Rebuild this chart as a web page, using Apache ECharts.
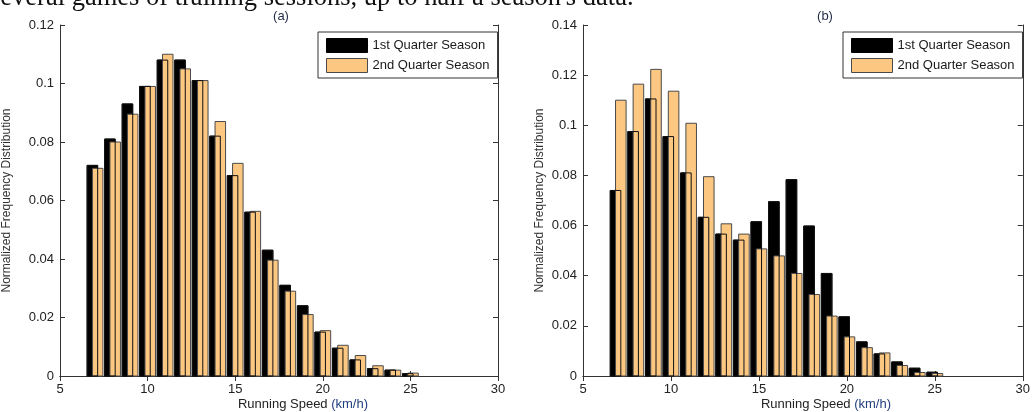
<!DOCTYPE html>
<html>
<head>
<meta charset="utf-8">
<title>Running speed distribution</title>
<script src="https://cdn.jsdelivr.net/npm/echarts@6/dist/echarts.min.js"></script>
<style>
  html, body { margin: 0; padding: 0; background: #fff; }
  #chart { width: 1033px; height: 412px; }
</style>
</head>
<body>
<div id="chart"></div>
<script>
// speed bins, km/h (bin centres)
const speedBins = [7, 8, 9, 10, 11, 12, 13, 14, 15, 16, 17, 18, 19, 20, 21, 22, 23, 24, 25]

// panel (a)
const firstQuarterA = [0.072, 0.081, 0.093, 0.099, 0.108, 0.108, 0.101, 0.082, 0.0685, 0.056, 0.043, 0.031, 0.024, 0.015, 0.0095, 0.0055, 0.0025, 0.002, 0.0008]
const secondQuarterA = [0.071, 0.080, 0.0895, 0.099, 0.110, 0.105, 0.101, 0.087, 0.0727, 0.0563, 0.0396, 0.029, 0.021, 0.0155, 0.0105, 0.007, 0.0035, 0.002, 0.001]

// panel (b)
const firstQuarterB = [0.074, 0.0975, 0.1105, 0.0955, 0.081, 0.0633, 0.0566, 0.0542, 0.0615, 0.0695, 0.0783, 0.0598, 0.0409, 0.0236, 0.0136, 0.0088, 0.0056, 0.0031, 0.0015]
const secondQuarterB = [0.110, 0.1164, 0.1223, 0.1136, 0.1008, 0.0795, 0.0607, 0.0566, 0.0507, 0.0479, 0.0409, 0.0325, 0.0239, 0.0156, 0.0113, 0.0092, 0.0042, 0.0014, 0.001]

const xTicks = [5, 10, 15, 20, 25, 30]
const yMaxA = 0.12
const yMaxB = 0.14

const Q1 = '1st Quarter Season'
const Q2 = '2nd Quarter Season'
const ORANGE = '#FCC781'
const FONT = 'Liberation Sans'

const chart = echarts.init(document.getElementById('chart'))

function pairs(values) {
  return speedBins.map((s, i) => [s, values[i]])
}

// one bar per bin, shifted left/right of the bin centre (matlab grouped look)
function barRender(shift, fill, stroke) {
  return function (params, api) {
    const x = api.value(0)
    const y = api.value(1)
    const p0 = api.coord([x + shift - 0.3, 0])
    const p1 = api.coord([x + shift + 0.3, y])
    return {
      type: 'rect',
      shape: { x: p0[0], y: p1[1], width: p1[0] - p0[0], height: p0[1] - p1[1] },
      style: { fill: fill, stroke: stroke, lineWidth: 1 }
    }
  }
}

function panelSeries(q1, q2, axisIdx) {
  return [
    {
      name: Q1, type: 'custom', xAxisIndex: axisIdx, yAxisIndex: axisIdx,
      itemStyle: { color: '#000' },
      renderItem: barRender(-0.15, '#000', '#000'),
      encode: { x: 0, y: 1 },
      data: pairs(q1), z: 2
    },
    {
      name: Q2, type: 'custom', xAxisIndex: axisIdx, yAxisIndex: axisIdx,
      itemStyle: { color: ORANGE },
      renderItem: barRender(0.15, ORANGE, '#4a4a4a'),
      encode: { x: 0, y: 1 },
      data: pairs(q2), z: 3
    },
    {
      // outline of the black bar drawn over the orange one
      name: 'outline', type: 'custom', xAxisIndex: axisIdx, yAxisIndex: axisIdx,
      renderItem: barRender(-0.15, 'none', '#111'),
      encode: { x: 0, y: 1 },
      data: pairs(q1), z: 4, silent: true
    }
  ]
}

const axisLine = { show: true, lineStyle: { color: '#333', width: 1 } }
const tick = { show: true, inside: true, length: 5, lineStyle: { color: '#333' } }
const tickLabel = { fontSize: 13, color: '#222', fontFamily: FONT }

function xAxes(grid) {
  return [
    { type: 'value', gridIndex: grid, min: 5, max: 30, interval: 5, axisLine: axisLine, axisTick: tick,
      axisLabel: Object.assign({ margin: 7 }, tickLabel), splitLine: { show: false } },
    { type: 'value', gridIndex: grid, position: 'top', min: 5, max: 30, interval: 5, axisLine: axisLine, axisTick: tick,
      axisLabel: { show: false }, splitLine: { show: false } }
  ]
}

function yAxes(grid, max, gap) {
  return [
    { type: 'value', gridIndex: grid, min: 0, max: max, interval: 0.02, axisLine: axisLine, axisTick: tick,
      axisLabel: Object.assign({ margin: 6 }, tickLabel), splitLine: { show: false },
      name: 'Normalized Frequency Distribution', nameLocation: 'middle', nameRotate: 90, nameGap: gap,
      nameTextStyle: { fontSize: 12, color: '#333', fontFamily: FONT } },
    { type: 'value', gridIndex: grid, position: 'right', min: 0, max: max, interval: 0.02, axisLine: axisLine, axisTick: tick,
      axisLabel: { show: false }, splitLine: { show: false } }
  ]
}

function legendAt(left) {
  return {
    left: left, top: 32, orient: 'vertical',
    padding: [6, 8, 5, 8], itemGap: 5, itemWidth: 41, itemHeight: 14,
    borderColor: '#333', borderWidth: 1, backgroundColor: '#fff',
    selectedMode: false,
    textStyle: { fontSize: 13, color: '#1a1a1a', fontFamily: FONT },
    data: [
      { name: Q1, icon: 'rect', itemStyle: { color: '#000', borderColor: '#000', borderWidth: 1 } },
      { name: Q2, icon: 'rect', itemStyle: { color: ORANGE, borderColor: '#4a4a4a', borderWidth: 1 } }
    ]
  }
}

function xName(cx) {
  return {
    type: 'text', x: cx, y: 398,
    style: {
      text: '{a|Running Speed }{b|(km/h)}',
      align: 'center', verticalAlign: 'top',
      rich: {
        a: { fontSize: 13, fill: '#222', fontFamily: FONT },
        b: { fontSize: 13, fill: '#23407f', fontFamily: FONT }
      }
    }
  }
}

let option = {
  animation: false,
  textStyle: { fontFamily: FONT },
  grid: [
    { left: 60, top: 25, width: 438, height: 351 },
    { left: 583, top: 25, width: 444, height: 351 }
  ],
  xAxis: xAxes(0).concat(xAxes(1)),
  yAxis: yAxes(0, yMaxA, 47).concat(yAxes(1, yMaxB, 37)),
  legend: [legendAt(318), legendAt(843)],
  graphic: [
    // cut-off line of body text above the figure
    { type: 'text', x: -10, y: 12,
      style: { text: 'several games of training sessions, up to half a season\'s data.',
        font: '26.5px "Liberation Serif"', fill: '#111', align: 'left', verticalAlign: 'bottom' } },
    { type: 'text', x: 281, y: 16,
      style: { text: '(a)', font: '13px "Liberation Sans"', fill: '#1f2a44', align: 'center', verticalAlign: 'middle' } },
    { type: 'text', x: 825, y: 16,
      style: { text: '(b)', font: '13px "Liberation Sans"', fill: '#1f2a44', align: 'center', verticalAlign: 'middle' } },
    xName(303),
    xName(826)
  ],
  series: panelSeries(firstQuarterA, secondQuarterA, 0)
    .concat(panelSeries(firstQuarterB, secondQuarterB, 2))
}

// axis indices: 0/1 bottom/top (a), 2/3 bottom/top (b); same for y left/right
option.series.forEach(s => { s.yAxisIndex = s.xAxisIndex })

chart.setOption(option)
window.addEventListener('resize', () => { chart.resize() })
</script>
</body>
</html>
